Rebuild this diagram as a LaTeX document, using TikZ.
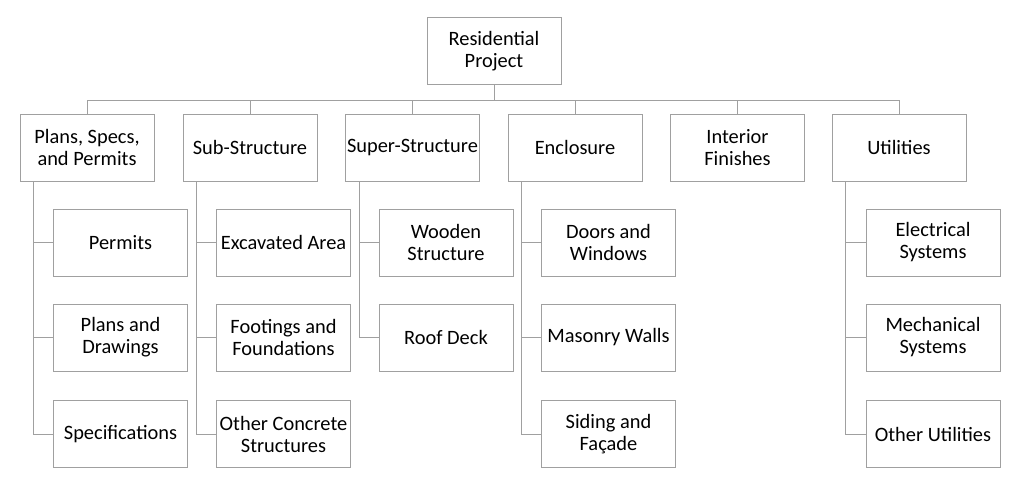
\documentclass[tikz,border=0pt]{standalone}
\usepackage{fontspec}
\setmainfont{Carlito}
\usetikzlibrary{positioning,calc}
\definecolor{BoxLine}{RGB}{160,160,160}
\tikzset{
  wnode/.style={rectangle,draw=BoxLine,fill=white,line width=0.75pt,
                font=\fontsize{15.3}{16.5}\selectfont,align=center,
                minimum width=100.5pt,minimum height=50.25pt,inner sep=0pt},
  wedge/.style={BoxLine,line width=0.75pt},
}

\begin{document}
\begin{tikzpicture}[x=0.75pt,y=-0.75pt]
    \useasboundingbox (0,0) rectangle (1024,492);
    % top
    \node[wnode] (root) at (494,51.5) {Residential\\Project};
    % first level
    \node[wnode] (plans) at (87,147.5)  {Plans, Specs,\\and Permits};
    \node[wnode] (sub)   at (250,147.5) {Sub-Structure};
    \node[wnode] (super) at (412.5,147.5) {Super-Structure};
    \node[wnode] (encl)  at (575,147.5) {Enclosure};
    \node[wnode] (inter) at (737.5,147.5) {Interior\\Finishes};
    \node[wnode] (util)  at (899,147.5) {Utilities};
    % second level
    \node[wnode] (permits) at (120.5,242.5) {Permits};
    \node[wnode] (drawings) at (120.5,337.5) {Plans and\\Drawings};
    \node[wnode] (specs) at (120.5,434) {Specifications};
    \node[wnode] (excav) at (283.5,242.5) {Excavated Area};
    \node[wnode] (found) at (283.5,337.5) {Footings and\\Foundations};
    \node[wnode] (concr) at (283.5,434) {Other Concrete\\Structures};
    \node[wnode] (wood)  at (446,242.5) {Wooden\\Structure};
    \node[wnode] (roof)  at (446,337.5) {Roof Deck};
    \node[wnode] (doors) at (608.5,242.5) {Doors and\\Windows};
    \node[wnode] (mason) at (608.5,337.5) {Masonry Walls};
    \node[wnode] (siding) at (608.5,434) {Siding and\\Façade};
    \node[wnode] (elec)  at (933,242.5) {Electrical\\Systems};
    \node[wnode] (mech)  at (933,337.5) {Mechanical\\Systems};
    \node[wnode] (otheru) at (933,434) {Other Utilities};
    % connectors
    \coordinate (bus) at (494,100);
    \draw[wedge] (root) -- (bus);
    \foreach \n in {plans,sub,super,encl,inter,util}
      \draw[wedge] (bus) -| (\n);
    \foreach \p/\c in {plans/permits,plans/drawings,plans/specs,
                       sub/excav,sub/found,sub/concr,
                       super/wood,super/roof,
                       encl/doors,encl/mason,encl/siding,
                       util/elec,util/mech,util/otheru}
      \draw[wedge] ($(\p.south west)+(14,0)$) |- (\c);
\end{tikzpicture}
\end{document}
